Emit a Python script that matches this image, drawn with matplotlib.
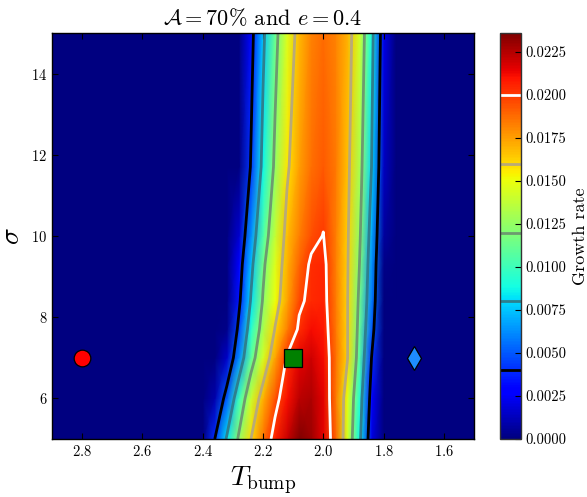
import numpy as np
import matplotlib
matplotlib.use('Agg')
import matplotlib.pyplot as plt

plt.rcParams['font.family'] = 'cmr10'
plt.rcParams['mathtext.fontset'] = 'cm'
plt.rcParams['axes.formatter.use_mathtext'] = True

# ---- data ----
T_bump = [2.9, 2.45, 2.40, 2.36, 2.32, 2.28, 2.24, 2.20, 2.16, 2.12, 2.08,
          2.04, 2.00, 1.96, 1.92, 1.88, 1.84, 1.80, 1.76, 1.5]
sigma = [5, 6, 7, 7.7, 8.4, 9.3, 10, 11.7, 15]

rate_s5 = [0, 0, 0, .0040, .0083, .0124, .0160, .0186, .0207, .0221, .0236,
           .0230, .0215, .0190, .0143, .0086, .0021, 0, 0, 0]
rate_s6 = [0, 0, 0, .0010, .0051, .0099, .0140, .0170, .0194, .0211, .0224,
           .0226, .0215, .0186, .0148, .0093, .0030, 0, 0, 0]
rate_s7 = [0, 0, 0, 0, .0015, .0061, .0108, .0143, .0174, .0202, .0214,
           .0220, .0212, .0188, .0161, .0106, .0040, 0, 0, 0]
rate_s77 = [0, 0, 0, 0, .0002, .0046, .0094, .0131, .0161, .0183, .0203,
            .0212, .0209, .0186, .0161, .0111, .0050, 0, 0, 0]
rate_s84 = [0, 0, 0, 0, 0, .0035, .0082, .0122, .0151, .0174, .0197,
            .0204, .0206, .0185, .0161, .0115, .0058, 0, 0, 0]
rate_s93 = [0, 0, 0, 0, 0, .0027, .0073, .0115, .0146, .0170, .0189,
            .0203, .0205, .0184, .0162, .0120, .0063, .0002, 0, 0]
rate_s10 = [0, 0, 0, 0, 0, .0017, .0063, .0105, .0139, .0167, .0183,
            .0195, .02005, .0184, .0163, .0124, .0068, .0007, 0, 0]
rate_s117 = [0, 0, 0, 0, 0, 0, .0042, .0087, .0125, .0157, .0175,
             .0187, .0192, .0185, .0166, .0131, .0080, .0014, 0, 0]
rate_s15 = [0, 0, 0, 0, 0, 0, .0031, .0075, .0112, .0145, .0168,
            .0182, .0188, .0182, .0170, .0142, .0089, .0023, 0, 0]

levels = [0.004, 0.008, 0.012, 0.016, 0.020]
level_colors = ['black', '#2e7f8e', '#6d9a70', '#b9aa78', 'white']
cbar_ticks = [0.0, 0.0025, 0.005, 0.0075, 0.01, 0.0125, 0.015, 0.0175,
              0.02, 0.0225]
x_ticks = [2.8, 2.6, 2.4, 2.2, 2.0, 1.8, 1.6]
y_ticks = [6, 8, 10, 12, 14]

marker_T = [2.8, 2.1, 1.7]
marker_sigma = [7, 7, 7]
marker_shape = ['o', 's', 'd']
marker_color = ['red', 'green', '#1e8cff']
marker_size = [12, 13, 12]

# ---- figure ----
Z = np.array([rate_s5, rate_s6, rate_s7, rate_s77, rate_s84, rate_s93,
              rate_s10, rate_s117, rate_s15])
T = np.array(T_bump)[::-1]
Z = Z[:, ::-1]
S = np.array(sigma, dtype=float)
TT, SS = np.meshgrid(T, S)

fig = plt.figure(figsize=(5.87, 4.97), dpi=100)
ax = fig.add_axes([52 / 587, 58 / 497, 422 / 587, 406 / 497])
cax = fig.add_axes([500 / 587, 58 / 497, 21 / 587, 406 / 497])

vmax = 0.0236
mesh = ax.pcolormesh(TT, SS, Z, shading='gouraud', cmap='jet',
                     vmin=0, vmax=vmax, rasterized=True)
cs = ax.contour(TT, SS, Z, levels=levels, colors=level_colors,
                linewidths=2.0)

for xv, yv, m, c, ms in zip(marker_T, marker_sigma, marker_shape,
                            marker_color, marker_size):
    ax.plot(xv, yv, marker=m, color=c, markersize=ms,
            markeredgecolor='black', markeredgewidth=0.9, linestyle='none')

ax.set_xlim(2.9, 1.5)
ax.set_ylim(5, 15)
ax.set_xticks(x_ticks)
ax.set_yticks(y_ticks)
ax.tick_params(direction='in', top=True, right=True, length=4,
               labelsize=10.5, width=0.8)
ax.set_xlabel(r'$T_{\rm bump}$', fontsize=20)
ax.set_ylabel(r'$\sigma$', fontsize=20)
ax.set_title(r'$\mathcal{A} = 70\%$ and $e = 0.4$', fontsize=16)
for sp in ax.spines.values():
    sp.set_linewidth(1.0)

cbar = fig.colorbar(mesh, cax=cax, ticks=cbar_ticks, format='%.4f')
cbar.add_lines(cs)
cbar.ax.tick_params(direction='in', labelsize=10.5, length=4, width=0.8)
cbar.set_label('Growth rate', fontsize=13)
cbar.outline.set_linewidth(1.0)
cbar.outline.set_edgecolor('#333333')

fig.savefig('out.png', dpi=100)
